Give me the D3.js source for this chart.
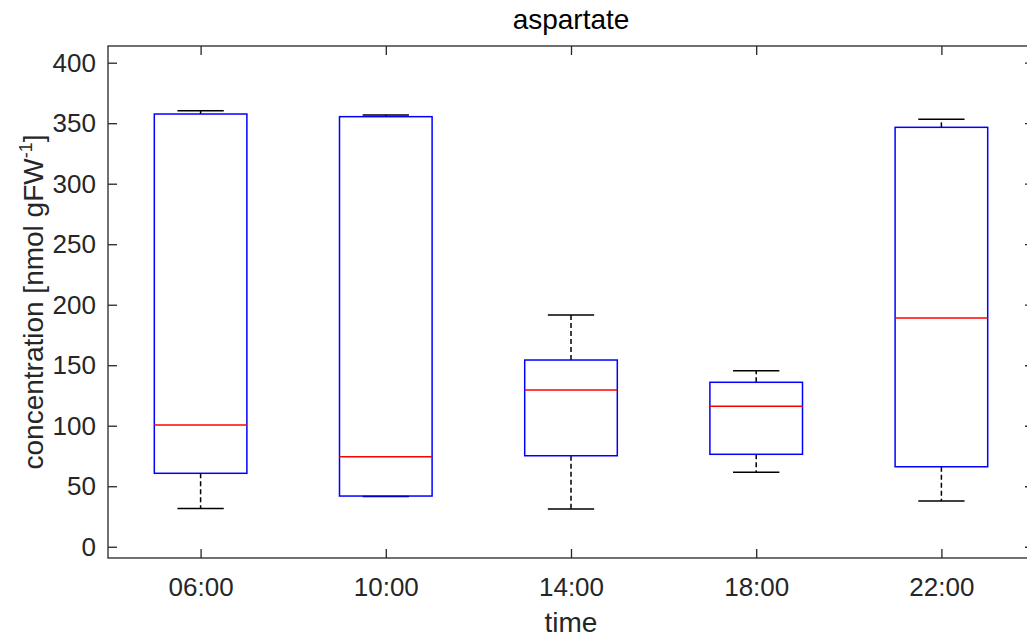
<!DOCTYPE html>
<html><head><meta charset="utf-8">
<script src="https://cdn.jsdelivr.net/npm/d3@7"></script>
<style>body{margin:0;background:#fff}svg{display:block}text{font-family:"Liberation Sans",Arial,sans-serif}</style>
</head><body>
<svg id="c" width="1027" height="639"></svg>
<script>
const categories = ["06:00","10:00","14:00","18:00","22:00"];
const lowerWhisker = [31.7, 41.6, 31.2, 61.5, 37.8];
const q1Values     = [60.7, 41.9, 75.2, 76.4, 66.1];
const medianValues = [100.6, 74.4, 129.5, 116.0, 189.0];
const q3Values     = [357.6, 355.4, 154.3, 135.9, 346.6];
const upperWhisker = [360.3, 356.8, 191.5, 145.5, 353.2];
const yTicks = [0,50,100,150,200,250,300,350,400];

const svg = d3.select("#c");
const L=108, R=1034, T=46, B=558;
const x = d3.scaleLinear().domain([0.5, 5.5]).range([L, R]);
const y = d3.scaleLinear().domain([-9.3, 413.8]).range([B, T]);
const axisColor = "#262626";
const fs = 26;

svg.append("rect").attr("x",L).attr("y",T).attr("width",R-L).attr("height",B-T)
  .attr("fill","none").attr("stroke",axisColor).attr("stroke-width",1.3);

const yAx = d3.axisLeft(y).tickValues(yTicks).tickSizeInner(-9).tickSizeOuter(0).tickPadding(12);
const gy = svg.append("g").attr("transform",`translate(${L},0)`).call(yAx);
gy.select(".domain").remove();
gy.selectAll("line").attr("stroke",axisColor).attr("stroke-width",1.3);
gy.selectAll("text").attr("font-size",fs).attr("fill",axisColor);
const gy2 = svg.append("g").attr("transform",`translate(${R},0)`).call(d3.axisRight(y).tickValues(yTicks).tickSizeInner(-9).tickSizeOuter(0).tickFormat(""));
gy2.select(".domain").remove();
gy2.selectAll("line").attr("stroke",axisColor).attr("stroke-width",1.3);

const xAx = d3.axisBottom(x).tickValues(d3.range(1,6)).tickFormat((d,i)=>categories[i]).tickSizeInner(-9).tickSizeOuter(0).tickPadding(20);
const gx = svg.append("g").attr("transform",`translate(0,${B})`).call(xAx);
gx.select(".domain").remove();
gx.selectAll("line").attr("stroke",axisColor).attr("stroke-width",1.3);
gx.selectAll("text").attr("font-size",fs).attr("fill",axisColor);
const gx2 = svg.append("g").attr("transform",`translate(0,${T})`).call(d3.axisTop(x).tickValues(d3.range(1,6)).tickSizeInner(-9).tickSizeOuter(0).tickFormat(""));
gx2.select(".domain").remove();
gx2.selectAll("line").attr("stroke",axisColor).attr("stroke-width",1.3);

const boxW = 0.5, capW = 0.25;
const data = categories.map((c,i)=>({pos:i+1, lw:lowerWhisker[i], q1:q1Values[i], med:medianValues[i], q3:q3Values[i], uw:upperWhisker[i]}));
const g = svg.append("g");
data.forEach(d=>{
  const cx = x(d.pos);
  g.append("line").attr("x1",cx).attr("x2",cx).attr("y1",y(d.q3)).attr("y2",y(d.uw))
    .attr("stroke","#000").attr("stroke-width",1.5).attr("stroke-dasharray","5,3");
  g.append("line").attr("x1",cx).attr("x2",cx).attr("y1",y(d.q1)).attr("y2",y(d.lw))
    .attr("stroke","#000").attr("stroke-width",1.5).attr("stroke-dasharray","5,3");
  [d.uw,d.lw].forEach(v=>{
    g.append("line").attr("x1",x(d.pos-capW/2)).attr("x2",x(d.pos+capW/2)).attr("y1",y(v)).attr("y2",y(v))
      .attr("stroke","#000").attr("stroke-width",1.5);
  });
  g.append("rect").attr("x",x(d.pos-boxW/2)).attr("width",x(d.pos+boxW/2)-x(d.pos-boxW/2))
    .attr("y",y(d.q3)).attr("height",y(d.q1)-y(d.q3))
    .attr("fill","none").attr("stroke","#0000FF").attr("stroke-width",1.5);
  g.append("line").attr("x1",x(d.pos-boxW/2)).attr("x2",x(d.pos+boxW/2)).attr("y1",y(d.med)).attr("y2",y(d.med))
    .attr("stroke","#FF0000").attr("stroke-width",1.5);
});

svg.append("text").attr("x",(L+R)/2).attr("y",29).attr("text-anchor","middle")
  .attr("font-size",28).attr("fill","#000").text("aspartate");
svg.append("text").attr("x",(L+R)/2).attr("y",632).attr("text-anchor","middle")
  .attr("font-size",28).attr("fill",axisColor).text("time");
const yl = svg.append("text").attr("transform",`translate(43,${(T+B)/2}) rotate(-90)`).attr("text-anchor","middle")
  .attr("font-size",28).attr("fill",axisColor);
yl.append("tspan").text("concentration [nmol gFW");
yl.append("tspan").attr("dy",-11).attr("font-size",18).text("-1");
yl.append("tspan").attr("dy",11).text("]");
</script>
</body></html>
